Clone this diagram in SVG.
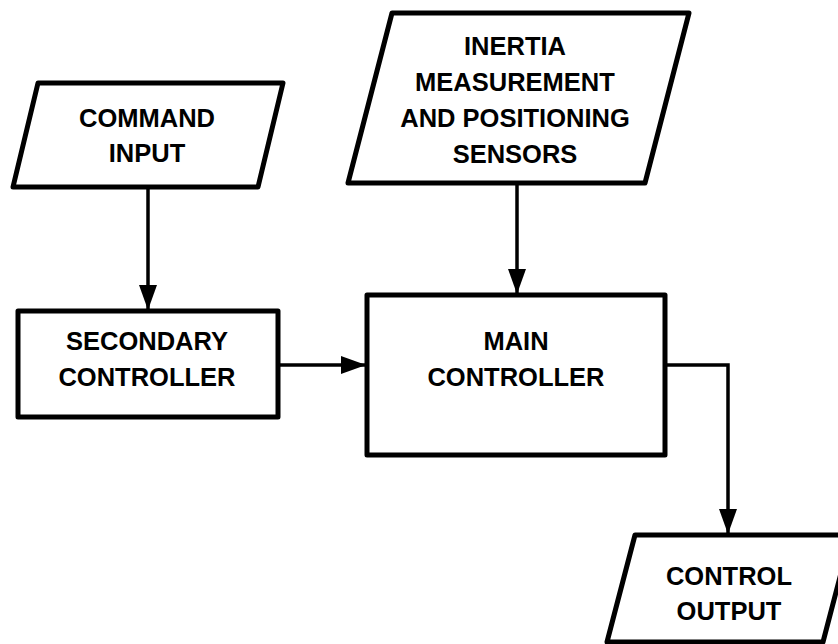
<svg xmlns="http://www.w3.org/2000/svg" width="838" height="644" viewBox="0 0 838 644">
<defs>
<style>
.shape{fill:#fff;stroke:#000;stroke-width:5;stroke-linejoin:round}
.conn{fill:none;stroke:#000;stroke-width:3.5;stroke-linejoin:miter}
.t{font-family:"Liberation Sans",Arial,sans-serif;font-weight:bold;font-size:25.5px;fill:#000;text-anchor:middle}
</style>
<marker id="arr" markerUnits="userSpaceOnUse" markerWidth="26" markerHeight="18" refX="25" refY="9" orient="auto">
<path d="M0,0 L25,9 L0,18 Z" fill="#000"/>
</marker>
</defs>
<rect width="838" height="644" fill="#fff"/>
<g id="connectors">
<line class="conn" x1="148" y1="187" x2="148" y2="310" marker-end="url(#arr)"/>
<line class="conn" x1="517" y1="183" x2="517" y2="294" marker-end="url(#arr)"/>
<line class="conn" x1="278" y1="365" x2="366" y2="365" marker-end="url(#arr)"/>
<polyline class="conn" points="665,365 728,365 728,534" marker-end="url(#arr)"/>
</g>
<g id="command-input">
<polygon class="shape" points="38,83 283,83 258,187 13,187"/>
<text class="t" x="147" y="127">COMMAND</text>
<text class="t" x="147" y="162">INPUT</text>
</g>
<g id="inertia-sensors">
<polygon class="shape" points="392,13 689,13 645,183 348,183"/>
<text class="t" x="515" y="55">INERTIA</text>
<text class="t" x="515" y="91">MEASUREMENT</text>
<text class="t" x="515" y="127">AND POSITIONING</text>
<text class="t" x="515" y="163">SENSORS</text>
</g>
<g id="secondary-controller">
<rect class="shape" x="18" y="311" width="260" height="106"/>
<text class="t" x="147" y="350">SECONDARY</text>
<text class="t" x="147" y="386">CONTROLLER</text>
</g>
<g id="main-controller">
<rect class="shape" x="367" y="295" width="298" height="160"/>
<text class="t" x="516" y="350">MAIN</text>
<text class="t" x="516" y="386">CONTROLLER</text>
</g>
<g id="control-output">
<polygon class="shape" points="635,535 851,535 823,642 607,642"/>
<text class="t" x="729" y="585">CONTROL</text>
<text class="t" x="729" y="620">OUTPUT</text>
</g>
</svg>
